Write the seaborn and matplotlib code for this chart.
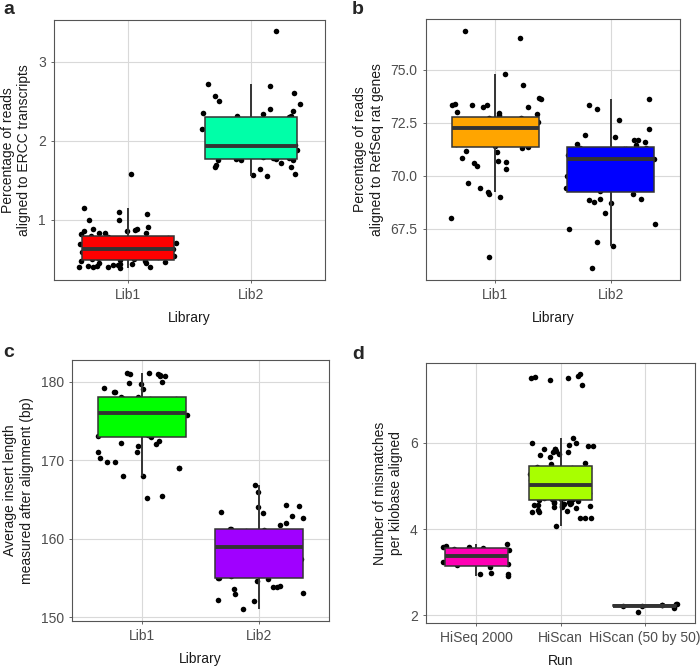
import numpy as np
import pandas as pd
import matplotlib
matplotlib.use("Agg")
import matplotlib.pyplot as plt
import seaborn as sns

# ---------------- data ----------------
# Panel a: percentage of reads aligned to ERCC transcripts
a_lib1 = [0.39, 0.40, 0.40, 0.41, 0.41, 0.42, 0.42, 0.43, 0.43, 0.44, 0.44, 0.45, 0.46, 0.47, 0.48, 0.48,
          0.49, 0.50, 0.51, 0.52, 0.535, 0.54, 0.55, 0.565, 0.57, 0.58, 0.59, 0.60, 0.61, 0.62, 0.625, 0.63,
          0.635, 0.64, 0.65, 0.66, 0.67, 0.68, 0.69, 0.70, 0.71, 0.72, 0.73, 0.74, 0.75, 0.76, 0.77, 0.78, 0.79,
          0.80, 0.82, 0.83, 0.84, 0.84, 0.86, 0.865, 0.87, 0.89, 0.89, 0.91, 0.995, 0.995, 1.08, 1.10, 1.147, 1.577]
a_lib2 = [1.55, 1.57, 1.585, 1.64, 1.665, 1.675, 1.69, 1.72, 1.755, 1.755, 1.76, 1.765,
          1.775, 1.78, 1.79, 1.80, 1.81, 1.83, 1.84, 1.86, 1.87, 1.89, 1.90, 1.92, 1.935, 1.945, 1.97,
          2.00, 2.03, 2.06, 2.09, 2.12, 2.15, 2.19, 2.23, 2.27, 2.30,
          2.31, 2.32, 2.34, 2.35, 2.38, 2.40, 2.47, 2.51, 2.565, 2.60, 2.70, 2.725, 3.39]

# Panel b: percentage of reads aligned to RefSeq rat genes
b_lib1 = [66.15, 67.99, 69.01, 69.15, 69.25, 69.41, 69.67, 70.34, 70.46, 70.59, 70.67, 70.71, 70.83, 71.14, 71.17, 71.30,
          71.37, 71.42, 71.47, 71.52, 71.57, 71.62, 71.68, 71.73, 71.79, 71.85, 71.90, 71.96, 72.02, 72.08, 72.15, 72.22,
          72.26, 72.30, 72.34, 72.38, 72.42, 72.45, 72.48, 72.51, 72.54, 72.57, 72.60, 72.63, 72.66, 72.69, 72.72, 72.74,
          72.89, 72.93, 72.98, 73.00, 73.24, 73.24, 73.33, 73.36, 73.36, 73.40, 73.63, 73.66, 74.29, 74.81, 76.48, 76.84]
b_lib2 = [65.63, 66.67, 66.87, 67.47, 67.74, 68.23, 68.73, 68.75, 68.84, 68.89, 68.90, 69.15,
          69.28, 69.40, 69.55, 69.70, 69.85, 70.00, 70.15, 70.30, 70.45, 70.60, 70.70, 70.77,
          70.79, 70.85, 70.92, 71.00, 71.06, 71.12, 71.18, 71.22, 71.25, 71.28, 71.30, 71.33,
          71.46, 71.50, 71.58, 71.69, 71.69, 71.85, 71.93, 72.20, 72.65, 73.16, 73.33, 73.63]

# Panel c: average insert length (bp)
c_lib1 = [165.2, 165.4, 167.95, 168.05, 168.97, 169.05, 169.73, 169.8, 170.3, 171.0, 171.0, 171.85, 172.06, 172.15, 172.4, 172.9,
          173.03, 173.2, 173.4, 173.6, 173.8, 174.0, 174.2, 174.4, 174.6, 174.8, 175.0, 175.2, 175.4, 175.6, 175.8, 176.0,
          176.1, 176.25, 176.4, 176.55, 176.7, 176.85, 177.0, 177.1, 177.2, 177.3, 177.45, 177.55, 177.65, 177.75, 177.85, 177.98,
          178.05, 178.1, 178.7, 178.7, 179.03, 179.24, 179.7, 179.83, 179.9, 180.69, 180.77, 180.82, 181.0, 181.03, 181.07, 181.1]
c_lib2 = [151.08, 152.1, 152.2, 153.0, 153.1, 153.6, 153.8, 153.9, 153.98, 154.65, 154.9, 154.95,
          155.0, 155.3, 155.6, 156.0, 156.27, 156.6, 157.0, 157.4, 157.8, 158.2, 158.55, 158.9,
          159.05, 159.3, 159.55, 159.8, 160.0, 160.2, 160.4, 160.6, 160.8, 161.0, 161.15, 161.25,
          161.3, 161.75, 162.04, 162.63, 162.93, 163.27, 163.4, 164.08, 164.13, 164.33, 165.99, 166.9]

# Panel d: mismatches per kilobase aligned
d_hiseq = [2.92, 2.95, 2.97, 2.98, 3.12, 3.16, 3.20, 3.25, 3.30, 3.36,
           3.38, 3.42, 3.47, 3.51, 3.55, 3.56, 3.58, 3.59, 3.60, 3.66]
d_hiscan = [4.07, 4.27, 4.27, 4.27, 4.41, 4.41, 4.43, 4.45, 4.50, 4.51, 4.51, 4.53,
            4.55, 4.56, 4.57, 4.58, 4.58, 4.58, 4.60, 4.60, 4.62, 4.64, 4.66, 4.67,
            4.69, 4.70, 4.71, 4.72, 4.73, 4.75, 4.76, 4.78, 4.79, 4.81, 4.82, 4.84,
            4.85, 4.87, 4.88, 4.90, 4.91, 4.93, 4.94, 4.96, 4.97, 4.99, 5.00, 5.02,
            5.03, 5.05, 5.07, 5.09, 5.11, 5.13, 5.15, 5.17, 5.19, 5.21, 5.23, 5.25,
            5.27, 5.29, 5.31, 5.33, 5.35, 5.37, 5.38, 5.39, 5.40, 5.42, 5.43, 5.44,
            5.51, 5.54, 5.67, 5.73, 5.75, 5.78, 5.79, 5.82, 5.85, 5.87, 5.87, 5.92,
            5.94, 5.96, 6.00, 6.01, 6.11, 7.35, 7.46, 7.508, 7.515, 7.52, 7.55, 7.60]
d_hiscan50 = [2.08, 2.18, 2.21, 2.22, 2.23, 2.24, 2.25, 2.27, 2.275]

lib_cats = ["Lib1", "Lib2"]
run_cats = ["HiSeq 2000", "HiScan", "HiScan (50 by 50)"]

a_colors = ["#FF0000", "#00FFA8"]
b_colors = ["#FFA500", "#0000FF"]
c_colors = ["#00FF00", "#A000FF"]
d_colors = ["#FF00B4", "#A8FF00", "#00B4FF"]

a_ylabel = "Percentage of reads\naligned to ERCC transcripts"
b_ylabel = "Percentage of reads\naligned to RefSeq rat genes"
c_ylabel = "Average insert length\nmeasured after alignment (bp)"
d_ylabel = "Number of mismatches\nper kilobase aligned"

a_yticks = [1, 2, 3]
b_yticks = [67.5, 70.0, 72.5, 75.0]
c_yticks = [150, 160, 170, 180]
d_yticks = [2, 4, 6]

# ---------------- style ----------------
sns.set_theme(style="white")
plt.rcParams["font.family"] = ["Liberation Sans", "DejaVu Sans"]

W, H = 700, 667
fig = plt.figure(figsize=(W / 100, H / 100), dpi=100)
FS = 10


def make_ax(left, top, right, bottom):
    return fig.add_axes([left / W, 1 - bottom / H, (right - left) / W, (bottom - top) / H])


def panel(ax, groups, cats, colors, xlabel, ylabel, yticks, ylim, ticklabels, seed):
    df = pd.DataFrame({
        "cat": np.concatenate([[c] * len(g) for c, g in zip(cats, groups)]),
        "val": np.concatenate([np.asarray(g, float) for g in groups]),
    })
    np.random.seed(seed)
    sns.stripplot(data=df, x="cat", y="val", order=cats, color="black", jitter=0.4,
                  size=4.0, linewidth=0, ax=ax, zorder=2)
    sns.boxplot(data=df, x="cat", y="val", order=cats, hue="cat", hue_order=cats,
                palette=dict(zip(cats, colors)), legend=False, showfliers=False,
                showcaps=False, width=0.75, linecolor="#333333", linewidth=1.1, saturation=1,
                boxprops=dict(zorder=3), whiskerprops=dict(zorder=3, linewidth=1.4),
                medianprops=dict(zorder=4, linewidth=2.8, color="#333333"), ax=ax)
    ax.set_xlim(-0.6, len(cats) - 0.4)
    ax.set_ylim(*ylim)
    ax.set_yticks(yticks)
    ax.set_yticklabels(ticklabels)
    ax.set_xlabel(xlabel, fontsize=FS, color="#1a1a1a", labelpad=6)
    ax.set_ylabel(ylabel, fontsize=FS, color="#1a1a1a", labelpad=5)
    ax.grid(True, color="#D9D9D9", linewidth=0.8)
    ax.set_axisbelow(True)
    for s in ax.spines.values():
        s.set_color("#555555")
        s.set_linewidth(0.8)
    ax.tick_params(axis="both", labelsize=FS, colors="#4D4D4D", length=2.5, width=0.6,
                   direction="out", left=True, bottom=True)


ax_a = make_ax(54, 20, 325, 280)
panel(ax_a, [a_lib1, a_lib2], lib_cats, a_colors, "Library", a_ylabel, a_yticks,
      (0.24, 3.53), [str(t) for t in a_yticks], 1)

ax_b = make_ax(426, 19, 680, 280)
panel(ax_b, [b_lib1, b_lib2], lib_cats, b_colors, "Library", b_ylabel, b_yticks,
      (65.08, 77.40), [f"{t:.1f}" for t in b_yticks], 2)

ax_c = make_ax(72, 360, 329, 621)
panel(ax_c, [c_lib1, c_lib2], lib_cats, c_colors, "Library", c_ylabel, c_yticks,
      (149.52, 182.76), [str(t) for t in c_yticks], 3)

ax_d = make_ax(426, 363, 695, 623)
panel(ax_d, [d_hiseq, d_hiscan, d_hiscan50], run_cats, d_colors, "Run", d_ylabel, d_yticks,
      (1.824, 7.856), [str(t) for t in d_yticks], 4)

for lbl, x, y in [("a", 3, 1), ("b", 352, 1), ("c", 3, 344), ("d", 352, 346)]:
    fig.text(x / W, 1 - y / H, lbl, fontsize=14, fontweight="bold", va="top", ha="left")

fig.savefig("out.png", dpi=100)
